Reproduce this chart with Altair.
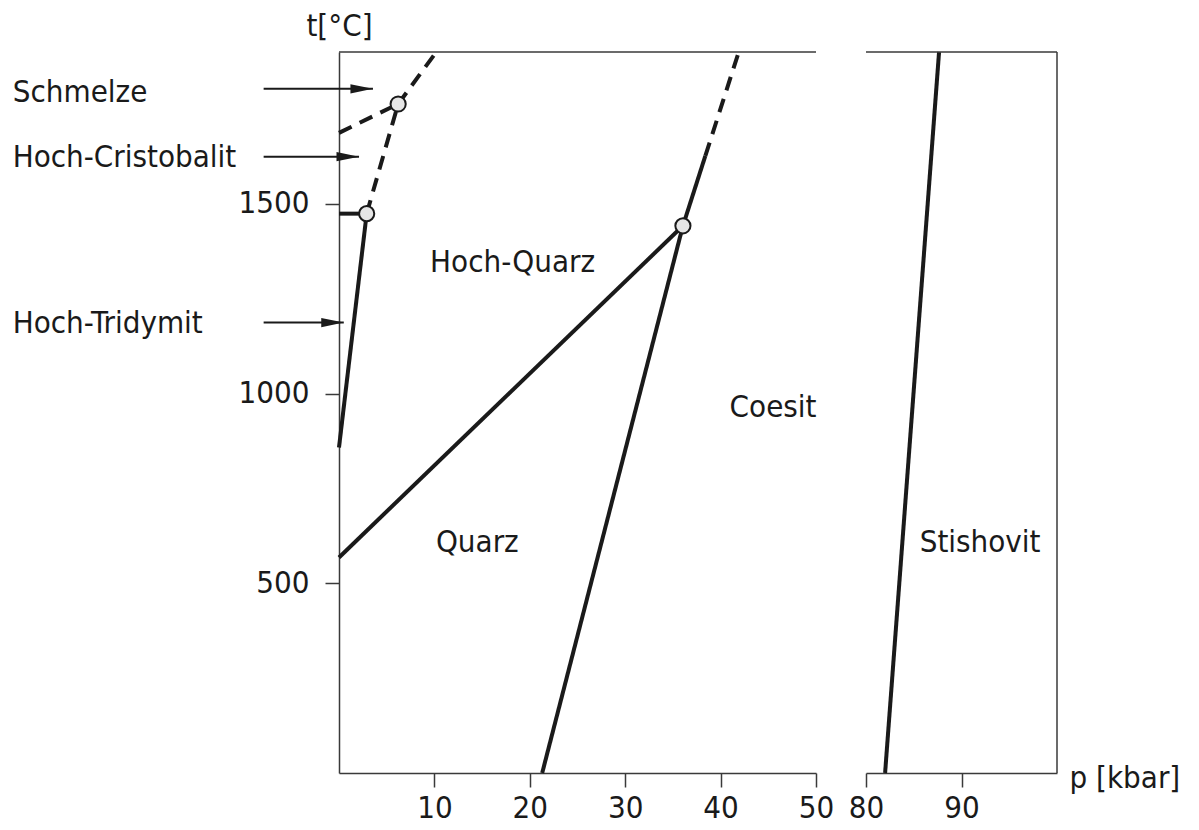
import altair as alt
import pandas as pd

FONT = "DejaVu Sans Condensed"
INK = "#1a1a1a"
FRAME = "#3a3a3a"

# ---------------- Left panel (0-50 kbar) ----------------
solid_seg = ["Tr-Q", "Tr-Q", "Tr-Cr", "Tr-Cr", "Q-HQ", "Q-HQ",
             "Q-Co", "Q-Co", "HQ-Co", "HQ-Co"]
solid_p = [0.0, 2.9, 0.0, 2.9, 0.0, 36.05, 21.3, 36.05, 36.05, 38.4]
solid_t = [858, 1474, 1474, 1474, 568, 1442, 0, 1442, 1442, 1626]

dash_seg = ["Cr-HQ", "Cr-HQ", "Cr-S", "Cr-S", "HQ-S", "HQ-S", "Co-S", "Co-S"]
dash_p = [2.9, 6.2, 0.0, 6.2, 6.2, 10.2, 38.4, 41.9]
dash_t = [1474, 1763, 1687, 1763, 1763, 1900, 1626, 1900]

triple_p = [2.9, 6.2, 36.05]
triple_t = [1474, 1763, 1442]

phase_labels = ["Hoch-Quarz", "Coesit", "Quarz"]
phase_p = [18.2, 45.5, 14.5]
phase_t = [1345, 961, 605]

side_labels = ["Schmelze", "Hoch-Cristobalit", "Hoch-Tridymit"]
side_label_t = [1792, 1621, 1184]
side_label_p = [-34.2, -34.2, -34.2]
arrow_t = [1803, 1624, 1187]
arrow_start_p = [-7.9, -7.9, -7.9]
arrow_end_p = [3.56, 2.1, 0.5]

left_ticks = [10, 20, 30, 40, 50]
t_ticks = [500, 1000, 1500]

# ---------------- Right panel (80-100 kbar) ----------------
stish_p = [82.0, 87.65]
stish_t = [0, 1900]
right_labels = ["Stishovit"]
right_label_p = [91.95]
right_label_t = [605]
right_ticks = [80, 90]

T_MAX = 1900

solid_df = pd.DataFrame({"seg": solid_seg, "p": solid_p, "t": solid_t})
dash_df = pd.DataFrame({"seg": dash_seg, "p": dash_p, "t": dash_t})
triple_df = pd.DataFrame({"p": triple_p, "t": triple_t})
phase_df = pd.DataFrame({"label": phase_labels, "p": phase_p, "t": phase_t})
side_df = pd.DataFrame({"label": side_labels, "p": side_label_p, "t": side_label_t})
arrow_rows = []
for i, name in enumerate(side_labels):
    arrow_rows.append({"seg": name, "p": arrow_start_p[i], "t": arrow_t[i]})
    arrow_rows.append({"seg": name, "p": arrow_end_p[i], "t": arrow_t[i]})
arrow_df = pd.DataFrame(arrow_rows)
head_df = pd.DataFrame({"p": arrow_end_p, "t": arrow_t})
top_df = pd.DataFrame({"t": [T_MAX]})
stish_df = pd.DataFrame({"seg": ["St"] * 2, "p": stish_p, "t": stish_t})
rlabel_df = pd.DataFrame({"label": right_labels, "p": right_label_p, "t": right_label_t})
rborder_df = pd.DataFrame({"p": [100]})

LW = 477
RW = 191
H = 721
FS = 31

x_left = alt.X(
    "p:Q",
    scale=alt.Scale(domain=[0, 50], nice=False, zero=False),
    axis=alt.Axis(values=left_ticks, title=None, grid=False, format="d"),
)
y_left = alt.Y(
    "t:Q",
    scale=alt.Scale(domain=[0, T_MAX], nice=False),
    axis=alt.Axis(
        values=t_ticks, grid=False, format="d", title="t[°C]", titleAngle=0,
        titleAlign="center", titleBaseline="bottom", titleX=0, titleY=-10,
    ),
)
x_right = alt.X(
    "p:Q",
    scale=alt.Scale(domain=[80, 100], nice=False, zero=False),
    axis=alt.Axis(
        values=right_ticks, grid=False, format="d", title="p [kbar]", titleAngle=0,
        titleAlign="left", titleBaseline="middle", titleX=203, titleY=5,
    ),
)
y_right = alt.Y("t:Q", scale=alt.Scale(domain=[0, T_MAX], nice=False), axis=None)

solid = alt.Chart(solid_df).mark_line(color=INK, strokeWidth=4, strokeCap="butt").encode(
    x=x_left, y=y_left, detail="seg:N")
dashed = alt.Chart(dash_df).mark_line(color=INK, strokeWidth=4, strokeDash=[14, 9]).encode(
    x=x_left, y=y_left, detail="seg:N")
arrows = alt.Chart(arrow_df).mark_line(color=INK, strokeWidth=2).encode(
    x=x_left, y=y_left, detail="seg:N")
heads = alt.Chart(head_df).mark_point(
    shape="M-2.2,-0.45L0,0L-2.2,0.45Z", size=420, filled=True, color=INK, opacity=1
).encode(x=x_left, y=y_left)
triples = alt.Chart(triple_df).mark_point(
    shape="circle", size=230, filled=True, fill="#e6e6e6", stroke=INK, strokeWidth=2, opacity=1
).encode(x=x_left, y=y_left)
phase_txt = alt.Chart(phase_df).mark_text(font=FONT, fontSize=FS, color=INK).encode(
    x=x_left, y=y_left, text="label:N")
side_txt = alt.Chart(side_df).mark_text(font=FONT, fontSize=FS, color=INK, align="left").encode(
    x=x_left, y=y_left, text="label:N")
top_left = alt.Chart(top_df).mark_rule(color=FRAME, strokeWidth=1.5).encode(y=y_left)

left = alt.layer(solid, dashed, arrows, heads, triples, phase_txt, side_txt, top_left).properties(
    width=LW, height=H)

stish = alt.Chart(stish_df).mark_line(color=INK, strokeWidth=4).encode(
    x=x_right, y=y_right, detail="seg:N")
rtxt = alt.Chart(rlabel_df).mark_text(font=FONT, fontSize=FS, color=INK).encode(
    x=x_right, y=y_right, text="label:N")
top_right = alt.Chart(top_df).mark_rule(color=FRAME, strokeWidth=1.5).encode(y=y_right)
right_border = alt.Chart(rborder_df).mark_rule(color=FRAME, strokeWidth=1.5).encode(x=x_right)

right = alt.layer(stish, rtxt, top_right, right_border).properties(width=RW, height=H)

chart = (
    alt.hconcat(left, right, spacing=14)
    .resolve_scale(x="independent", y="independent")
    .configure_view(stroke=None)
    .configure_axis(
        domainColor=FRAME, domainWidth=1.5, tickColor=FRAME, tickWidth=1.5,
        tickSize=14, labelFont=FONT, labelFontSize=FS, labelColor=INK,
        titleFont=FONT, titleFontSize=FS, titleFontWeight="normal", titleColor=INK,
        labelFlush=False, labelOverlap=False,
    )
    .configure_axisY(labelPadding=16)
    .configure_axisX(labelPadding=6)
    .properties(background="white", padding={"left": 4, "top": 2, "right": 0, "bottom": 0})
)

chart.save("out.html", embed_options={"renderer": "svg", "actions": False})
